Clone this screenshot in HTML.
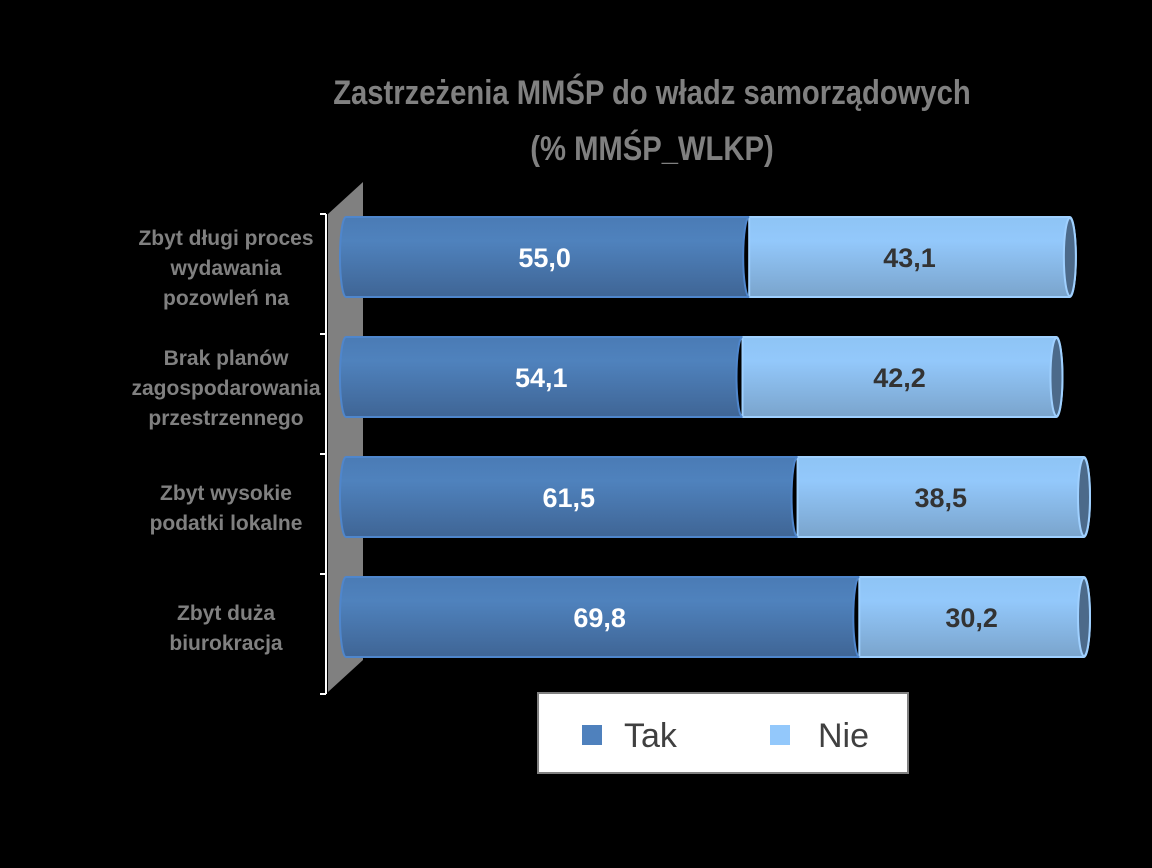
<!DOCTYPE html>
<html><head><meta charset="utf-8"><style>
body{margin:0;background:#000;}
svg{display:block;font-family:"Liberation Sans",sans-serif;}
</style></head><body>
<svg width="1152" height="868" viewBox="0 0 1152 868">
<defs>
<linearGradient id="gTak" x1="0" y1="0" x2="0" y2="1">
<stop offset="0" stop-color="#4a7bb5"/><stop offset="0.3" stop-color="#4f82bd"/><stop offset="1" stop-color="#3f6595"/>
</linearGradient>
<linearGradient id="gNie" x1="0" y1="0" x2="0" y2="1">
<stop offset="0" stop-color="#8ec4f5"/><stop offset="0.3" stop-color="#93c8fb"/><stop offset="1" stop-color="#7aa4cc"/>
</linearGradient>
</defs>
<text x="652" y="104" text-anchor="middle" font-size="34" font-weight="bold" fill="#808080" transform="scale(0.86 1)" style="transform-origin:652px 0">Zastrzeżenia MMŚP do władz samorządowych</text>
<text x="652" y="160" text-anchor="middle" font-size="34" font-weight="bold" fill="#808080" transform="scale(0.86 1)" style="transform-origin:652px 0">(% MMŚP_WLKP)</text>
<polygon points="328,214 363,182 363,660 328,692" fill="#808080"/>
<g id="axis"></g>
<g id="bars"></g>
<g>
<rect x="538" y="693" width="370" height="80" fill="#fff" stroke="#808080" stroke-width="2"/>
<rect x="582" y="725" width="20" height="20" fill="#4f81bd"/>
<text x="624" y="747" font-size="34" fill="#404040">Tak</text>
<rect x="770" y="725" width="20" height="20" fill="#93c8fb"/>
<text x="818" y="747" font-size="34" fill="#404040">Nie</text>
</g>
</svg>
<script>
const categories=[["Zbyt długi proces","wydawania","pozowleń na"],["Brak planów","zagospodarowania","przestrzennego"],["Zbyt wysokie","podatki lokalne"],["Zbyt duża","biurokracja"]];
const takValues=[55.0,54.1,61.5,69.8];
const nieValues=[43.1,42.2,38.5,30.2];
const NS="http://www.w3.org/2000/svg";
const x0=340,x100=1084;
const xs=v=>x0+(x100-x0)*v/100;
const bandTop=214,band=120;
function el(t,a,p){const e=document.createElementNS(NS,t);for(const k in a)e.setAttribute(k,a[k]);p.appendChild(e);return e;}
const bars=document.getElementById('bars'),axis=document.getElementById('axis');
const ax=el('line',{x1:326,y1:bandTop,x2:326,y2:bandTop+band*categories.length,stroke:'#fff','stroke-width':2},axis);


for(let i=0;i<=categories.length;i++){
 const t=el('line',{x1:320,y1:bandTop+band*i,x2:326,y2:bandTop+band*i,stroke:'#fff','stroke-width':2},axis);
 
 
}
categories.forEach((lines,i)=>{
 const cy=bandTop+band*i+band/2-6;
 const y=cy-(lines.length-1)*30/2;
 const tx=el('text',{x:226,'text-anchor':'middle','font-size':21,'font-weight':'bold',fill:'#808080'},axis);
 
 
 lines.forEach((l,j)=>{const s=el('tspan',{x:226,y:y+j*30+7},tx);s.textContent=l;});
 const top=bandTop+3+band*i,h=80,ry=h/2,rx=6;
 const xt=xs(takValues[i]),xn=xs(takValues[i]+nieValues[i]);
 const g=el('g',{},bars);
 
 
 const nie=el('path',{d:`M${xt},${top} L${xn},${top} A${rx},${ry} 0 0 1 ${xn},${top+h} L${xt},${top+h} Z`,fill:'url(#gNie)',stroke:'#9fd0ff','stroke-width':2},g);
 
 
 const cap=el('ellipse',{cx:xn,cy:top+ry,rx:rx,ry:ry-1,fill:'#4c6a8a',stroke:'#9fd0ff','stroke-width':2},g);
 
 
 const tak=el('path',{d:`M${x0+6},${top} L${xt},${top} A${rx},${ry} 0 0 0 ${xt},${top+h} L${x0+6},${top+h} A${rx},${ry} 0 0 1 ${x0+6},${top}Z`,fill:'url(#gTak)',stroke:'#4f86cc','stroke-width':2},g);
 
 
 const lt=el('text',{x:(x0+xt)/2,y:top+ry+10,'text-anchor':'middle','font-size':27,'font-weight':'bold',fill:'#fff'},g);
 
 
 lt.textContent=takValues[i].toFixed(1).replace('.',',');
 const ln=el('text',{x:(xt+xn)/2,y:top+ry+10,'text-anchor':'middle','font-size':27,'font-weight':'bold',fill:'#333'},g);
 
 
 ln.textContent=nieValues[i].toFixed(1).replace('.',',');
});
</script>
</body></html>
